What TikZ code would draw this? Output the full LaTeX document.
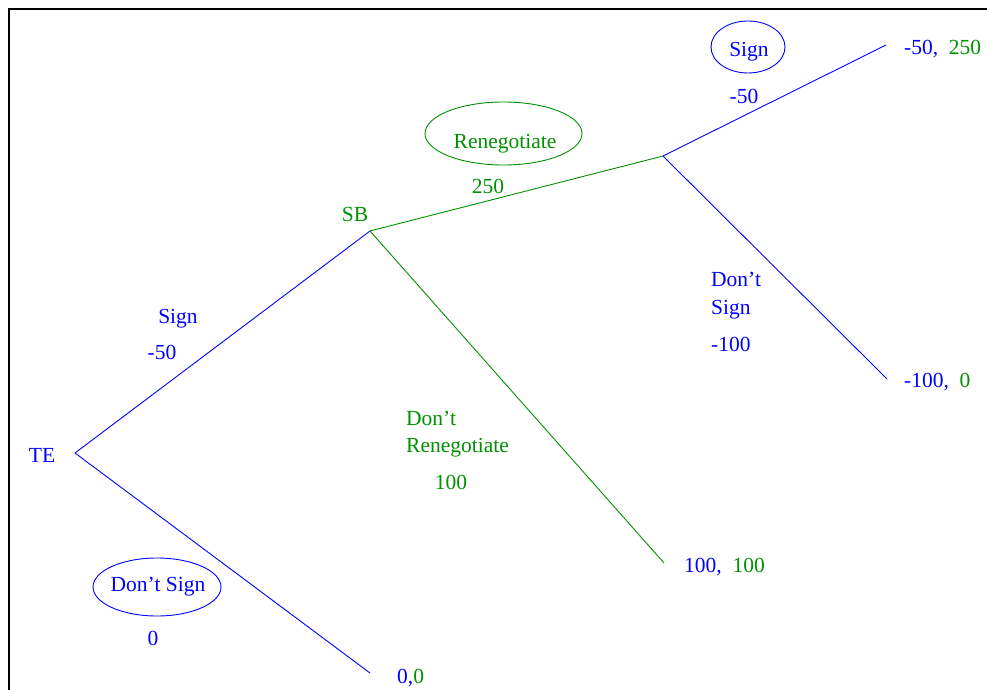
\documentclass[tikz,border=0pt]{standalone}
\usepackage{fontspec}
\setmainfont{Liberation Serif}
\usetikzlibrary{shapes.geometric}
\definecolor{tblue}{RGB}{0,0,255}
\definecolor{tgreen}{RGB}{0,145,0}
\begin{document}
\begin{tikzpicture}[x=1pt,y=-1pt,
  lbl/.style={inner sep=0pt,text depth=0pt,font=\fontsize{21.5}{26}\selectfont},
  bl/.style={lbl,text=tblue},
  gr/.style={lbl,text=tgreen},
  bbranch/.style={draw=tblue,line width=0.9pt},
  gbranch/.style={draw=tgreen,line width=0.9pt},
  oval/.style={ellipse,line width=0.9pt,inner sep=0pt}]
\useasboundingbox (0,0) rectangle (987,690);
\draw[line width=2.5pt] (9,690) -- (9,9) -- (987,9);
% decision points
\coordinate (te) at (75,453);
\coordinate (sb) at (370,231);
\coordinate (ren) at (663,156);
\coordinate (e1) at (886,45);
\coordinate (e2) at (887,379);
\coordinate (e3) at (664,563);
\coordinate (e4) at (370,673);
% branches
\draw[bbranch] (te) -- (sb);
\draw[bbranch] (te) -- (e4);
\draw[gbranch] (sb) -- (ren);
\draw[gbranch] (sb) -- (e3);
\draw[bbranch] (ren) -- (e1);
\draw[bbranch] (ren) -- (e2);
% labels
\node[bl] (tel) at (42,455) {TE};
\node[gr] (sbl) at (355,214) {SB};
\node[bl] (s1) at (178,316) {Sign};
\node[bl] (s1v) at (162,352) {-50};
\node[draw=tblue,oval,minimum width=128pt,minimum height=58pt] (dso) at (157,587) {};
\node[bl] (ds) at (158,584) {Don’t Sign};
\node[bl] (dsv) at (153,638) {0};
\node[draw=tgreen,oval,minimum width=157pt,minimum height=63pt] (reo) at (503.5,133.5) {};
\node[gr] (re) at (505,141) {Renegotiate};
\node[gr] (rev) at (488,186) {250};
\node[gr,anchor=west] (dr1) at (406,418) {Don’t};
\node[gr,anchor=west] (dr2) at (406,445) {Renegotiate};
\node[gr] (drv) at (451,482) {100};
\node[draw=tblue,oval,minimum width=74pt,minimum height=52pt] (so) at (748,47) {};
\node[bl] (s2) at (749,49) {Sign};
\node[bl] (s2v) at (744,96) {-50};
\node[bl,anchor=west] (d21) at (711,279) {Don’t};
\node[bl,anchor=west] (d22) at (711,307) {Sign};
\node[bl,anchor=west] (d2v) at (711,344) {-100};
% payoffs
\node[lbl,anchor=west] (p1) at (904,47) {\textcolor{tblue}{-50,}\ \ \textcolor{tgreen}{250}};
\node[lbl,anchor=west] (p2) at (904,380) {\textcolor{tblue}{-100,}\ \ \textcolor{tgreen}{0}};
\node[lbl,anchor=west] (p3) at (684,565) {\textcolor{tblue}{100,}\ \ \textcolor{tgreen}{100}};
\node[lbl,anchor=west] (p4) at (397,676) {\textcolor{tblue}{0,}\textcolor{tgreen}{0}};
\end{tikzpicture}
\end{document}
